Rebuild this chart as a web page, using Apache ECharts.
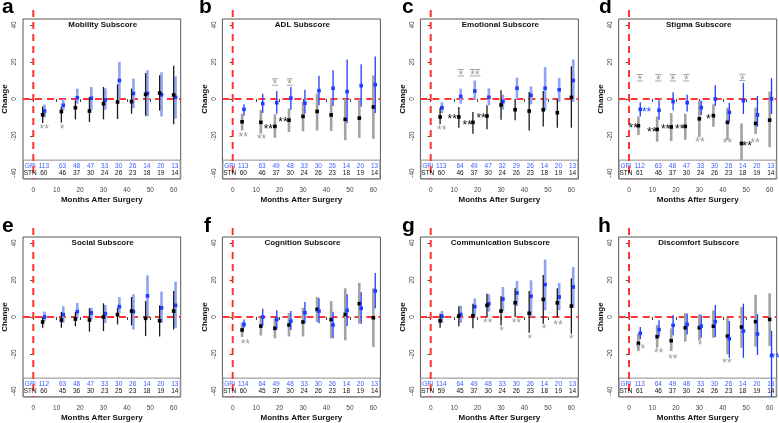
<!DOCTYPE html>
<html><head><meta charset="utf-8">
<script src="https://cdn.jsdelivr.net/npm/echarts@6/dist/echarts.min.js"></script>
<style>html,body{margin:0;padding:0;background:#fff;}#c{width:779px;height:423px;}</style>
</head><body><div id="c"></div>
<script>
// ---------- data ----------
const months = [4, 12, 18, 24, 30, 36, 42, 48, 54, 60];
const xTicks = [0, 10, 20, 30, 40, 50, 60];
const yTicks = [-40, -20, 0, 20, 40];
const letters = ['a','b','c','d','e','f','g','h'];
const titles = ['Mobility Subscore','ADL Subscore','Emotional Subscore','Stigma Subscore',
                'Social Subscore','Cognition Subscore','Communication Subscore','Discomfort Subscore'];

// a Mobility
const stnA = [-8.5,-6.8,-4.7,-6.5,-2.5,-1.6,-1.4,2.5,3.2,2.2];
const stnLoA = [-13,-12.8,-11,-12.4,-11,-10.8,-8,-9,-6.3,-13.7];
const stnHiA = [-4,-4.3,-0.7,1,6.5,8,5.6,14,12.8,18];
const gpiA = [-6.5,-3.4,0.7,0.4,-0.5,10,3,3,2.3,0.9];
const gpiLoA = [-10,-6,-2.5,-5.8,-5.8,0,-5,-9.4,-9.4,-10.6];
const gpiHiA = [-3,0,5.6,6.5,5.8,20,11,15.5,14.4,12.2];
const gpiNA = [113,63,48,47,33,30,26,14,20,13];
const stnNA = [60,46,37,30,24,26,23,18,19,14];
const starsA = [[4.7,-15,'**','g'],[12.3,-14.8,'*','g']];

// b ADL
const stnB = [-12.3,-12.6,-14.8,-11.4,-9.4,-6.7,-8.6,-11,-10.3,-4.3];
const stnLoB = [-17,-18.7,-21,-17.8,-17.5,-17,-17.3,-22.3,-21,-21.5];
const stnHiB = [-8,-6,-8.3,-5.2,-1.4,3,-0.7,0,0,12.8];
const gpiB = [-5.6,-2.5,-2,0.5,-2.3,4.5,5.8,4,7.2,7.7];
const gpiLoB = [-9,-7.6,-8,-5.8,-8,-3.4,-3.8,-13,-4,-7.6];
const gpiHiB = [-2.9,2.9,4.3,6.5,5,12.6,15.5,21.3,18.7,23];
const gpiNB = [113,63,49,48,33,30,26,14,20,13];
const stnNB = [60,46,37,30,24,26,23,18,19,14];
const starsB = [[4.5,-19.1,'**','g'],[12.3,-20.5,'**','g'],[15.2,-14.8,'**','k'],[18,9.2,'*','gb'],
                [21.4,-11.4,'**','k'],[24.3,9.2,'*','gb']];

// c Emotional
const stnC = [-9.7,-9.7,-12.6,-9.2,-3.2,-5.8,-6.5,-5.8,-7.4,0.9];
const stnLoC = [-13.7,-15.5,-18.7,-16.4,-11.2,-11.5,-17,-14.8,-15.5,-15.5];
const stnHiC = [-4.7,-4.3,-7,-3.4,4.7,0,3.8,4.3,0,17.6];
const gpiC = [-4.7,1.4,4.3,0.9,-1.4,5.8,2,5.8,5,10];
const gpiLoC = [-7.6,-2.5,-0.4,-3.4,-5.8,0,-2.9,-6,-1.6,-1.6];
const gpiHiC = [-1.8,5.6,10,5.8,2.3,11.5,6.8,17.3,11.4,21.4];
const gpiNC = [113,64,49,47,32,29,26,14,20,13];
const stnNC = [60,46,37,30,24,26,23,18,19,14];
const starsC = [[4.7,-15.7,'**','g'],[9.2,-9.7,'**','k'],[12.8,14.2,'*','gb'],[15.6,-12.6,'**','k'],
                [18.9,14.2,'**','gb'],[21.5,-9.2,'**','k']];

// d Stigma
const stnD = [-14.4,-16.4,-15.1,-14.8,-10.7,-9.0,-12.6,-24,-13.2,-11.4];
const stnLoD = [-19.5,-23,-22.7,-22,-20.5,-15,-22.2,-33,-18.9,-26];
const stnHiD = [-9.4,-9.4,-7.6,-8,-0.9,-2.9,-4.7,-13.2,-4.7,4];
const gpiD = [-5.6,-6.1,-1.4,-2,-4.6,0,-7.2,-0.9,-8.6,0.1];
const gpiLoD = [-9.4,-11.2,-6.1,-6.7,-8.7,-3.8,-12.3,-8.1,-15,-8.1];
const gpiHiD = [-1.8,-0.7,3.6,2.3,-0.9,7.4,-2,8.8,1.6,11.2];
const gpiND = [112,63,48,47,33,30,26,14,20,13];
const stnND = [61,46,37,30,24,26,23,18,19,14];
const starsD = [[1.8,-14.4,'**','k'],[7.5,-5.6,'**','b'],[4.6,11.5,'*','gb'],[9.7,-16.4,'**','k'],
                [12.5,11.5,'*','gb'],[15.6,-15.1,'**','k'],[18.7,11.5,'*','gb'],[21.6,-14.8,'**','k'],
                [24.4,11.5,'*','gb'],[30.3,-22.2,'**','g'],[33.8,-9.3,'*','k'],[42,-22.7,'**','g'],
                [50.4,-24,'**','k'],[48.3,11.7,'*','gb'],[53.7,-22.7,'**','g']];

// e Social
const stnE = [-2.7,-1.6,-1.1,-1.6,0,1.3,3.2,-0.7,-2,3.2];
const stnLoE = [-5.8,-5.8,-5,-7.9,-7.6,-4,-4.5,-10.3,-10.5,-6.8];
const stnHiE = [0,2.7,2.7,4.7,7.4,5,10.8,8.6,6.3,14];
const gpiE = [0,1.3,2.9,2.2,1.8,5.6,2.9,11.4,4.9,6.3];
const gpiLoE = [-2.2,-3.2,-0.7,-1.4,-3.2,2.3,-6.8,0,-3.2,-5.8];
const gpiHiE = [2.9,5.8,7.6,5,6.5,10.8,12.3,22.5,13.7,19.1];
const gpiNE = [112,63,48,47,33,30,26,14,20,13];
const stnNE = [60,45,36,30,23,25,23,18,19,14];
const starsE = [];

// f Cognition
const stnF = [-7,-4.9,-6.1,-4.3,-2.7,4.1,-1.4,1.4,7.2,-0.4];
const stnLoF = [-10.8,-10,-11.5,-10.5,-10.5,-2.7,-11.5,-12.6,-3.6,-16.2];
const stnHiF = [-3,-0.4,-0.7,2.2,5,10.8,8.6,15.5,18.4,15.5];
const gpiF = [-4,0,-1.3,-2.2,2.3,3.2,-4.3,3.6,4.7,14.1];
const gpiLoF = [-6.1,-4.9,-6.8,-7,-3.4,-3.4,-11.5,-4.9,-3.6,4.7];
const gpiHiF = [-1.4,4.5,3.6,3.2,8.1,10.1,2.9,12.3,13.3,23.8];
const gpiNF = [114,64,49,48,33,30,26,14,20,13];
const stnNF = [60,45,37,30,24,26,23,18,19,14];
const starsF = [[5.4,-13.2,'**','g']];

// g Communication
const stnG = [-2,0.5,0.7,6.3,3.2,7.7,2,9.5,7.6,5.9];
const stnLoG = [-5.8,-5,-6.1,0,-4.5,0,-8.5,-3.6,0,-9];
const stnHiG = [1.8,5.8,7.2,12.6,11.2,15.5,14,22.7,15.5,20.9];
const gpiG = [0.4,1.4,5.6,7.2,9.7,13,11.2,17.5,10.8,16.2];
const gpiLoG = [-3.2,-3.2,0.7,2.9,3.2,5.9,0,3.6,3.6,5];
const gpiHiG = [3.2,6.1,10.1,12.3,16.2,19.5,19.8,31,18.4,27];
const gpiNG = [114,64,49,48,33,30,26,14,20,13];
const stnNG = [59,45,37,30,24,26,23,18,19,14];
const starsG = [[24.3,-2.2,'**','g'],[30.2,-6.1,'*','g'],[36.6,-2.2,'**','g'],[42.3,-10.5,'*','g'],
                [48.4,-5.4,'*','g'],[54.3,-2.9,'**','g'],[60,-10.6,'*','g']];

// h Discomfort
const stnH = [-14.2,-10.6,-12.8,-5.8,-5.8,-5,-10.3,-5.4,-2.5,-1.3];
const stnLoH = [-18.4,-16.6,-18.4,-13.3,-12.6,-11.2,-20.2,-16.6,-16,-15.7];
const stnHiH = [-9,-4.3,-6.1,2.2,1.4,3.6,-0.4,5.4,12,12.8];
const gpiH = [-8.8,-6.8,-4.5,-4,-4.9,-2.5,-11.7,-7.6,-9.2,-20.8];
const gpiLoH = [-12,-10.8,-9.9,-9.4,-11.2,-10.8,-22,-22,-20.5,-50];
const gpiHiH = [-5.4,-1.8,0.9,1.8,1.1,6.5,-2.2,7.2,1.5,-7.4];
const gpiNH = [113,64,49,48,33,30,26,14,20,13];
const stnNH = [61,46,37,30,24,26,23,18,19,14];
const starsH = [[4.9,-16.2,'**','g'],[12.7,-18.4,'**','g'],[18.7,-21.3,'**','g'],[30.3,-13.9,'*','g'],
                [41.8,-23.8,'**','g'],[62.4,-21,'**','b']];

const panels = [
  {stn:[stnA,stnLoA,stnHiA], gpi:[gpiA,gpiLoA,gpiHiA], nG:gpiNA, nS:stnNA, stars:starsA, thick:'gpi'},
  {stn:[stnB,stnLoB,stnHiB], gpi:[gpiB,gpiLoB,gpiHiB], nG:gpiNB, nS:stnNB, stars:starsB, thick:'stn'},
  {stn:[stnC,stnLoC,stnHiC], gpi:[gpiC,gpiLoC,gpiHiC], nG:gpiNC, nS:stnNC, stars:starsC, thick:'gpi'},
  {stn:[stnD,stnLoD,stnHiD], gpi:[gpiD,gpiLoD,gpiHiD], nG:gpiND, nS:stnND, stars:starsD, thick:'stn'},
  {stn:[stnE,stnLoE,stnHiE], gpi:[gpiE,gpiLoE,gpiHiE], nG:gpiNE, nS:stnNE, stars:starsE, thick:'gpi'},
  {stn:[stnF,stnLoF,stnHiF], gpi:[gpiF,gpiLoF,gpiHiF], nG:gpiNF, nS:stnNF, stars:starsF, thick:'stn'},
  {stn:[stnG,stnLoG,stnHiG], gpi:[gpiG,gpiLoG,gpiHiG], nG:gpiNG, nS:stnNG, stars:starsG, thick:'gpi'},
  {stn:[stnH,stnLoH,stnHiH], gpi:[gpiH,gpiLoH,gpiHiH], nG:gpiNH, nS:stnNH, stars:starsH, thick:'stn'}
];

// ---------- layout / style ----------
const FONT = '"Liberation Sans", Arial, Helvetica, sans-serif';
const xMin = -4.4, xMax = 63, yMin = -43.2, yMax = 43.2;
const tableTop = -33, rowG = -36.2, rowS = -40;
const gridLefts = [22.7, 222.4, 420.4, 618.7];
const gridTops = [19, 237];
const GW = 158, GH = 160;
const letterX = [2, 199, 402, 599, 2, 204, 402, 598];
const RED = '#ff3535';
const BLUE = '#1d3dff', BLUE_TXT = '#3b5bff', LIGHTBLUE = '#8fa4f5', GRAY = '#a2a2a2';
const STAR_COL = {g:'#9a9a9a', k:'#111111', b:'#2546ff'};

function errRender(data, lineColor, lineWidth, dotColor) {
  return function (params, api) {
    const d = data[params.dataIndex];
    const p0 = api.coord([d[0], d[2]]), p1 = api.coord([d[0], d[3]]), pm = api.coord([d[0], d[1]]);
    return {type:'group', children:[
      {type:'line', shape:{x1:p0[0], y1:p0[1], x2:p1[0], y2:p1[1]}, style:{stroke:lineColor, lineWidth:lineWidth}},
      {type:'rect', shape:{x:pm[0]-1.8, y:pm[1]-1.8, width:3.6, height:3.6}, style:{fill:dotColor}}
    ]};
  };
}
function decorRender(params, api) {
  const a = api.coord([xMin, tableTop]), b = api.coord([xMax, yMin]);
  const h0 = api.coord([xMin, 0]), h1 = api.coord([xMax, 0]);
  const v0 = api.coord([0, yMax]), v1 = api.coord([0, yMin]);
  return {type:'group', children:[
    {type:'rect', shape:{x:a[0]+0.5, y:a[1], width:b[0]-a[0]-1, height:b[1]-a[1]-0.5},
     style:{fill:'#ffffff', stroke:'#8c8c8c', lineWidth:1}},
    {type:'line', shape:{x1:h0[0], y1:h0[1], x2:h1[0], y2:h1[1]}, style:{stroke:RED, lineWidth:2, lineDash:[7,5]}},
    {type:'line', shape:{x1:v0[0], y1:v0[1]-9, x2:v1[0], y2:v1[1]}, style:{stroke:RED, lineWidth:2, lineDash:[7,5]}}
  ]};
}
function textRender(items) {
  return function (params, api) {
    const t = items[params.dataIndex];
    const p = api.coord([t[0], t[1]]);
    return {type:'text', x:p[0], y:p[1], style:{text:t[2], fill:t[3], font:'6.5px ' + FONT, align:'center', verticalAlign:'middle'}};
  };
}
function starRender(stars) {
  return function (params, api) {
    const s = stars[params.dataIndex];
    const p = api.coord([s[0], s[1]]);
    const col = STAR_COL[s[3][0]];
    const kids = [{type:'text', x:p[0], y:p[1]+3, style:{text:s[2], fill:col, font:'12px ' + FONT, align:'center', verticalAlign:'middle'}}];
    if (s[3].length > 1) {
      const w = s[2].length * 4.6 + 1.5;
      kids.push({type:'rect', shape:{x:p[0]-w/2, y:p[1]-3.6, width:w, height:0.9}, style:{fill:col}});
      kids.push({type:'rect', shape:{x:p[0]-w/2, y:p[1]+2.8, width:w, height:0.9}, style:{fill:col}});
    }
    return {type:'group', children:kids};
  };
}

const grid = [], xAxis = [], yAxis = [], series = [], graphic = [];
panels.forEach((P, i) => {
  const col = i % 4, row = Math.floor(i / 4);
  const left = gridLefts[col], top = gridTops[row];
  grid.push({left:left, top:top, width:GW, height:GH, show:true, borderColor:'#555', borderWidth:1, backgroundColor:'transparent'});
  xAxis.push({type:'value', gridIndex:i, min:xMin, max:xMax,
    axisLine:{show:false}, splitLine:{show:false},
    axisTick:{show:true, length:3, customValues:xTicks, lineStyle:{color:'#444', width:1}},
    axisLabel:{customValues:xTicks, fontSize:6.5, color:'#444', margin:8, fontFamily:FONT},
    name:'Months After Surgery', nameLocation:'middle', nameGap:17,
    nameTextStyle:{fontSize:8, fontWeight:'bold', color:'#111', fontFamily:FONT}});
  yAxis.push({type:'value', gridIndex:i, min:yMin, max:yMax,
    axisLine:{show:false}, splitLine:{show:false},
    axisTick:{show:true, length:3, customValues:yTicks, lineStyle:{color:'#444', width:1}},
    axisLabel:{customValues:yTicks, rotate:90, fontSize:6.5, color:'#444', margin:5, fontFamily:FONT},
    name:'Change', nameLocation:'middle', nameGap:14,
    nameTextStyle:{fontSize:8, fontWeight:'bold', color:'#111', fontFamily:FONT}});

  const stnData = months.map((m, k) => [m, P.stn[0][k], P.stn[1][k], P.stn[2][k]]);
  const gpiData = months.map((m, k) => [m + 0.8, P.gpi[0][k], P.gpi[1][k], P.gpi[2][k]]);
  const base = {type:'custom', coordinateSystem:'cartesian2d', xAxisIndex:i, yAxisIndex:i, silent:true};

  series.push(Object.assign({}, base, {z:1, clip:false, data:[[0,0]], renderItem:decorRender}));
  const stnThick = P.thick === 'stn';
  const thickS = stnThick
    ? Object.assign({}, base, {z:2, clip:true, data:stnData.map(d => [d[0], d[1]]), renderItem:errRender(stnData, GRAY, 2.6, '#000')})
    : Object.assign({}, base, {z:2, clip:true, data:gpiData.map(d => [d[0], d[1]]), renderItem:errRender(gpiData, LIGHTBLUE, 2.6, BLUE)});
  const thinS = stnThick
    ? Object.assign({}, base, {z:3, clip:true, data:gpiData.map(d => [d[0], d[1]]), renderItem:errRender(gpiData, BLUE, 1.3, BLUE)})
    : Object.assign({}, base, {z:3, clip:true, data:stnData.map(d => [d[0], d[1]]), renderItem:errRender(stnData, '#1a1a1a', 1.3, '#000')});
  series.push(thickS, thinS);

  const texts = [[-1.3, rowG, 'GPi', BLUE_TXT], [-1.3, rowS, 'STN', '#111']];
  months.forEach((m, k) => {
    texts.push([m + 0.5, rowG, String(P.nG[k]), BLUE_TXT]);
    texts.push([m + 0.5, rowS, String(P.nS[k]), '#111']);
  });
  series.push(Object.assign({}, base, {z:4, clip:false, data:texts.map(t => [t[0], t[1]]), renderItem:textRender(texts)}));
  if (P.stars.length) {
    series.push(Object.assign({}, base, {z:5, clip:false, data:P.stars.map(s => [s[0], s[1]]), renderItem:starRender(P.stars)}));
  }

  graphic.push({type:'text', x:left + GW/2 + 1, y:top + 2,
    style:{text:titles[i], font:'bold 8px ' + FONT, fill:'#111', align:'center', verticalAlign:'top'}});
  graphic.push({type:'text', x:letterX[i], y:row === 0 ? -2.8 : 215.7,
    style:{text:letters[i], font:'bold 21px ' + FONT, fill:'#000', align:'left', verticalAlign:'top'}});
});

const chart = echarts.init(document.getElementById('c'), null, {renderer:'canvas'});
chart.setOption({animation:false, backgroundColor:'#fff', grid, xAxis, yAxis, series, graphic});
</script></body></html>
